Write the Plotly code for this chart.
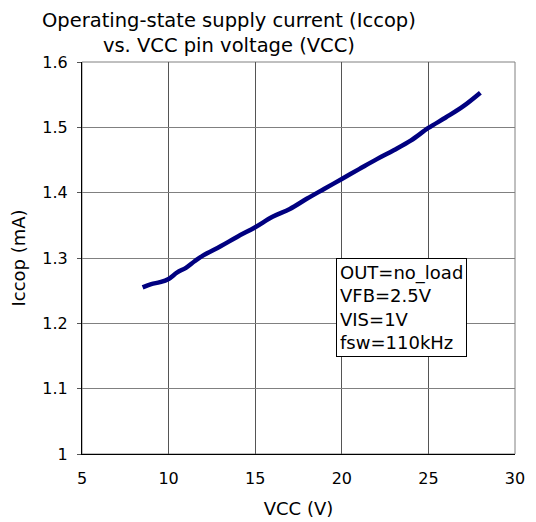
import plotly.graph_objects as go

vcc = [8.5, 9.0, 9.5, 10.0, 10.5, 11.0, 11.5, 12.0, 13.0, 14.0, 15.0, 16.0, 17.0, 18.0, 19.0, 20.0, 21.0, 22.0, 23.0, 24.0, 25.0, 26.0, 27.0, 28.0]
iccop = [1.255, 1.260, 1.263, 1.268, 1.278, 1.285, 1.295, 1.304, 1.318, 1.333, 1.347, 1.363, 1.375, 1.391, 1.406, 1.421, 1.436, 1.451, 1.465, 1.480, 1.499, 1.515, 1.532, 1.553]

x_ticks = [5, 10, 15, 20, 25, 30]
y_ticks = [1.0, 1.1, 1.2, 1.3, 1.4, 1.5, 1.6]
y_tick_labels = ["1", "1.1", "1.2", "1.3", "1.4", "1.5", "1.6"]

FONT = "DejaVu Sans, Verdana, sans-serif"

fig = go.Figure()
fig.add_trace(go.Scatter(x=vcc, y=iccop, mode="lines",
                         line=dict(color="#000080", width=4.5, shape="spline"),
                         showlegend=False))

fig.update_layout(
    width=528, height=514,
    margin=dict(l=74, r=21, t=54, b=68),
    paper_bgcolor="white", plot_bgcolor="white",
    font=dict(family=FONT, size=16, color="black"),
    xaxis=dict(range=[5, 30], tickvals=x_ticks, showgrid=True, gridcolor="#555555",
               gridwidth=1, zeroline=False, showline=True, linecolor="black",
               linewidth=1, ticks="", ticklabelstandoff=10, automargin=False,
               tickfont=dict(size=16),
               title=dict(text="VCC (V)", font=dict(size=18), standoff=15)),
    yaxis=dict(range=[1.0, 1.6], tickvals=y_ticks, ticktext=y_tick_labels, showgrid=True,
               gridcolor="#808080", gridwidth=1, zeroline=False, showline=True,
               linecolor="black", linewidth=1, ticks="outside", ticklen=4,
               tickcolor="#555555", ticklabelstandoff=6, automargin=False,
               tickfont=dict(size=16),
               title=dict(text="Iccop (mA)", font=dict(size=18), standoff=12)),
    shapes=[dict(type="rect", xref="paper", yref="paper", x0=0, y0=0, x1=1, y1=1,
                 line=dict(color="#808080", width=1), layer="below")],
    annotations=[
        dict(text="Operating-state supply current (Iccop)<br>vs. VCC pin voltage (VCC)",
             xref="paper", yref="paper", x=(229 - 82) / 433, y=1, yshift=3,
             xanchor="center", yanchor="bottom", showarrow=False, align="center",
             font=dict(size=19.5, family=FONT)),
        dict(text="OUT=no_load<br>VFB=2.5V<br>VIS=1V<br>fsw=110kHz",
             x=19.67, y=1.3, xanchor="left", yanchor="top", showarrow=False,
             align="left", bgcolor="white", bordercolor="black", borderwidth=1,
             borderpad=3, font=dict(size=18, family=FONT)),
    ],
)

fig.write_html("out.html")
